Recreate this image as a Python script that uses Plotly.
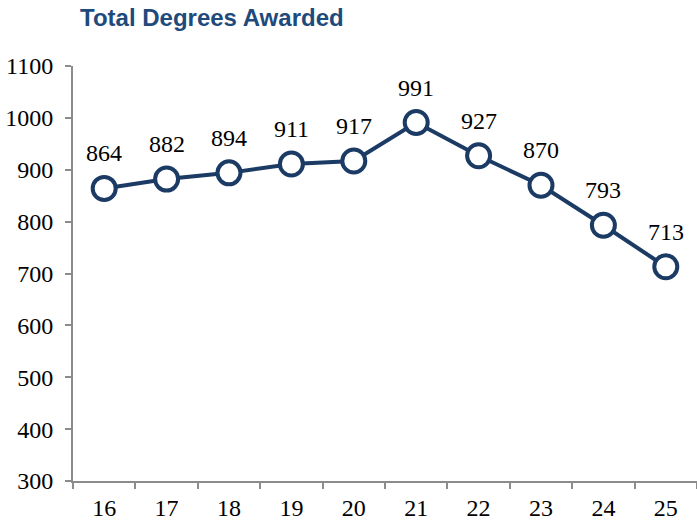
import plotly.graph_objects as go

years = ["16", "17", "18", "19", "20", "21", "22", "23", "24", "25"]
degrees = [864, 882, 894, 911, 917, 991, 927, 870, 793, 713]
y_ticks = [300, 400, 500, 600, 700, 800, 900, 1000, 1100]

NAVY = "#1b3a64"
GREY = "#8c8c8c"
SERIF = "Liberation Serif, Times New Roman, serif"

fig = go.Figure()
fig.add_trace(go.Scatter(
    x=years,
    y=degrees,
    mode="lines+markers",
    line=dict(color=NAVY, width=4),
    marker=dict(size=23, color="white", line=dict(color=NAVY, width=4)),
    showlegend=False,
    hoverinfo="x+y",
))

# value labels above each point (x as index, since "16" etc would be read as positions)
for i, val in enumerate(degrees):
    fig.add_annotation(
        x=i, y=val, text=str(val), showarrow=False,
        yshift=35, font=dict(family=SERIF, size=24, color="black"),
    )

fig.update_layout(
    width=697, height=523,
    margin=dict(l=73, r=0, t=66, b=42),
    plot_bgcolor="white",
    paper_bgcolor="white",
    title=dict(
        text="<b>Total Degrees Awarded</b>",
        font=dict(family="Liberation Sans, Arial, sans-serif", size=24, color="#1f4a7c"),
        xref="container", yref="container",
        x=80 / 697, xanchor="left",
        y=1 - 18 / 523, yanchor="middle",
    ),
)

fig.update_xaxes(
    type="category",
    range=[-0.5, 9.5],
    showgrid=False,
    showline=True, linecolor=GREY, linewidth=2,
    ticks="outside", tickson="boundaries", ticklen=6, tickwidth=2, tickcolor=GREY,
    tickfont=dict(family=SERIF, size=24, color="black"),
    ticklabelstandoff=4,
)
fig.update_yaxes(
    range=[300, 1100],
    tickvals=y_ticks,
    showgrid=False, zeroline=False,
    showline=True, linecolor=GREY, linewidth=2,
    ticks="outside", ticklen=6, tickwidth=2, tickcolor=GREY,
    tickfont=dict(family=SERIF, size=24, color="black"),
    ticklabelstandoff=7,
)

# drop the default page margin so the figure sits at the window's corner
fig.write_html(
    "out.html",
    config={"displayModeBar": False},
    post_script="document.body.style.margin='0';",
)
